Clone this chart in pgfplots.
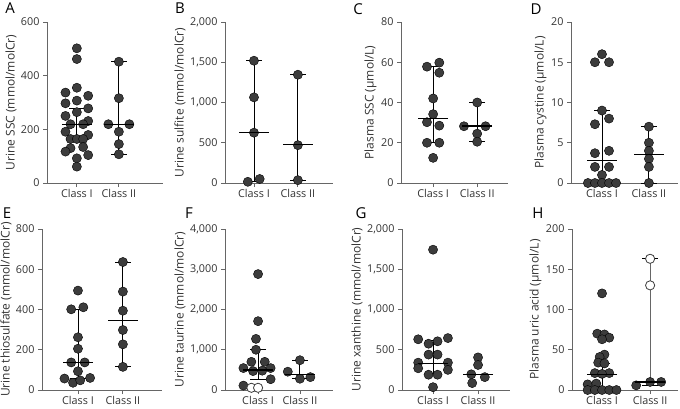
\documentclass[border=0pt]{standalone}
\usepackage{fontspec}
\setmainfont{Open Sans}
\usepackage{pgfplots}
\pgfplotsset{compat=1.18}
\definecolor{axgray}{HTML}{666666}
\definecolor{dotfill}{HTML}{3C3C3C}
\definecolor{txt}{HTML}{333333}

\pgfplotsset{
  panel/.style={
    scale only axis, anchor=south west,
    axis lines=left, axis line style={-, draw=axgray, line width=0.9pt},
    tick align=outside, major tick length=4pt,
    tick style={draw=axgray, line width=0.8pt},
    xtick={1,2}, xticklabels={Class I, Class II},
    ymin=0, scaled y ticks=false, clip=false,
    tick label style={font=\fontsize{10.8}{12}\selectfont, text=txt},
    xticklabel style={inner sep=1pt, yshift=-1.5pt},
    ylabel style={font=\fontsize{12}{13}\selectfont, text=txt, inner sep=1pt},
    /pgf/number format/assume math mode=true,
    /pgf/number format/1000 sep={,},
  },
  dots/.style={only marks, mark=*, mark size=4.6pt,
    mark options={fill=dotfill, draw=black, line width=0.4pt}},
  odots/.style={only marks, mark=*, mark size=4.6pt,
    mark options={fill=white, draw=dotfill, line width=0.8pt}},
  wh/.style={black, line width=0.9pt},
  caps/.style={only marks, mark=-, mark size=8pt, mark options={black, line width=0.9pt}},
  med/.style={only marks, mark=-, mark size=15pt, mark options={black, line width=1.3pt}},
}

\begin{document}
\begin{tikzpicture}[x=1pt,y=1pt]
\path[use as bounding box] (0,0) rectangle (680,408);

% ---- A
\begin{axis}[panel, at={(47pt,225pt)}, width=116pt, height=161pt,
  xmin=0.29, xmax=3.05, ymax=600, ytick={0,200,400,600},
  ylabel={Urine SSC (mmol/molCr)}]
\addplot[wh] coordinates {(1,164) (1,276)};
\addplot[caps] coordinates {(1,164) (1,276)};
\addplot[wh] coordinates {(2,107) (2,452)};
\addplot[caps] coordinates {(2,107) (2,452)};
\addplot[dots] coordinates {(1,502)(1,462)(1,355)(0.73,337)(1.27,325)(1,307)(0.73,297)(1.27,278)(1,264)(0.73,250)(1.27,231)(0.85,219)(1.15,219)(0.73,191)(1.27,179)(0.85,164)(1,164)(1.15,164)(1.15,134)(0.85,130)(0.73,117)(1.27,104)(1,92)(1,61)};
\addplot[dots] coordinates {(2,452)(2,316)(1.75,219)(2.25,219)(2,191)(2,145)(2,107)};
\addplot[med] coordinates {(1,219) (2,219)};
\end{axis}

% ---- B
\begin{axis}[panel, at={(225pt,225pt)}, width=108pt, height=161pt,
  xmin=0.34, xmax=2.8, ymax=2000, ytick={0,500,1000,1500,2000},
  ylabel={Urine sulfite (mmol/molCr)}]
\addplot[wh] coordinates {(1,15) (1,1519)};
\addplot[caps] coordinates {(1,15) (1,1519)};
\addplot[wh] coordinates {(2,35) (2,1345)};
\addplot[caps] coordinates {(2,35) (2,1345)};
\addplot[dots] coordinates {(1,1519)(1,1064)(1,625)(0.86,15)(1.13,50)};
\addplot[dots] coordinates {(2,1345)(2,470)(2,35)};
\addplot[med] coordinates {(1,625) (2,480)};
\end{axis}

% ---- C
\begin{axis}[panel, at={(401pt,225pt)}, width=107pt, height=161pt,
  xmin=0.27, xmax=2.7, ymax=80, ytick={0,20,40,60,80},
  ylabel={Plasma SSC (µmol/L)}]
\addplot[wh] coordinates {(1,20) (1,58)};
\addplot[caps] coordinates {(1,20) (1,58)};
\addplot[wh] coordinates {(2,20.5) (2,40)};
\addplot[caps] coordinates {(2,20.5) (2,40)};
\addplot[dots] coordinates {(0.86,57.8)(1.14,59.8)(1.14,54.8)(1,42)(1,34.2)(0.86,30.2)(1.14,28.5)(0.86,20)(1.14,20)(1,12.5)};
\addplot[dots] coordinates {(2,40)(1.7,28.2)(2.19,28.2)(2,24.5)(2,20.5)};
\addplot[med] coordinates {(1,32) (2,28.3)};
\end{axis}

% ---- D
\begin{axis}[panel, at={(571pt,225pt)}, width=107pt, height=161pt,
  xmin=0.34, xmax=2.62, ymax=20, ytick={0,5,10,15,20},
  ylabel={Plasma cystine (µmol/L)}]
\addplot[wh] coordinates {(1,0) (1,9)};
\addplot[caps] coordinates {(1,0) (1,9)};
\addplot[wh] coordinates {(2,0) (2,7)};
\addplot[caps] coordinates {(2,0) (2,7)};
\addplot[dots] coordinates {(1,16)(0.85,15)(1.15,15)(1,9)(1.15,8)(0.85,7.3)(0.85,3.7)(1.15,4.0)(0.85,2)(1.15,2)(1,1)(0.7,0)(0.85,0)(1,0)(1.15,0)(1.3,0)};
\addplot[dots] coordinates {(2,7)(2,5)(2,4)(2,3)(2,2)(2,0)};
\addplot[med] coordinates {(1,2.8) (2,3.5)};
\end{axis}

% ---- E
\begin{axis}[panel, at={(42pt,18pt)}, width=120pt, height=161pt,
  xmin=0.2, xmax=2.87, ymax=800, ytick={0,200,400,600,800},
  ylabel={Urine thiosulfate (mmol/molCr)}]
\addplot[wh] coordinates {(1,57) (1,401)};
\addplot[caps] coordinates {(1,57) (1,401)};
\addplot[wh] coordinates {(2,115) (2,636)};
\addplot[caps] coordinates {(2,115) (2,636)};
\addplot[dots] coordinates {(1,494)(0.85,401)(1.12,411)(1,262)(1,205)(0.85,137)(1.15,137)(1,93)(0.7,57)(1.27,60)(0.89,36)(1.05,48)};
\addplot[dots] coordinates {(2,636)(2,489)(2,394)(2,298)(2,227)(2,115)};
\addplot[med] coordinates {(1,137) (2,345)};
\end{axis}

% ---- F
\begin{axis}[panel, at={(225pt,18pt)}, width=108pt, height=161pt,
  xmin=0.21, xmax=2.79, ymax=4000, ytick={0,1000,2000,3000,4000},
  ylabel={Urine taurine (mmol/molCr)}]
\addplot[wh] coordinates {(1,253) (1,1000)};
\addplot[caps] coordinates {(1,253) (1,1000)};
\addplot[wh] coordinates {(2,280) (2,740)};
\addplot[caps] coordinates {(2,280) (2,740)};
\addplot[dots] coordinates {(1,2880)(1,1710)(0.95,1270)(0.95,1000)(0.84,700)(1.16,700)(0.65,545)(1.3,545)(0.88,470)(1.1,480)(1.3,268)(0.65,110)};
\addplot[odots] coordinates {(0.84,55)(1.0,55)};
\addplot[dots] coordinates {(2,740)(1.71,455)(2.25,320)(2,280)};
\addplot[med] coordinates {(1,496) (2,390)};
\end{axis}

% ---- G
\begin{axis}[panel, at={(402pt,18pt)}, width=108pt, height=161pt,
  xmin=0.31, xmax=2.71, ymax=2000, ytick={0,500,1000,1500,2000},
  ylabel={Urine xanthine (mmol/molCr)}]
\addplot[wh] coordinates {(1,200) (1,620)};
\addplot[caps] coordinates {(1,200) (1,620)};
\addplot[dots] coordinates {(1,1743)(0.67,630)(0.9,575)(1.1,605)(1.33,645)(0.9,440)(1.1,440)(0.67,340)(1.33,340)(0.67,270)(1.33,250)(0.9,190)(1.1,190)(1,35)};
\addplot[dots] coordinates {(2,405)(2,311)(1.85,195)(1.87,86)(2.15,160)};
\addplot[med] coordinates {(1,331) (2,196)};
\end{axis}

% ---- H
\begin{axis}[panel, at={(572pt,18pt)}, width=106pt, height=161pt,
  xmin=0.375, xmax=2.58, ymax=200, ytick={0,50,100,150,200},
  ylabel={Plasma uric acid (µmol/L)}]
\addplot[wh] coordinates {(1,0) (1,33)};
\addplot[caps] coordinates {(1,0) (1,33)};
\addplot[axgray, line width=0.9pt] coordinates {(2,5.8) (2,163)};
\addplot[caps] coordinates {(2,5.8) (2,163)};
\addplot[dots] coordinates {(1,120)(0.9,70)(1.05,69)(1.15,65)(1,63)(1.05,44)(0.95,41)(0.92,34)(1.05,33)(0.85,21)(1.15,21)(1.0,20)(0.7,7)(0.88,8)(0.7,0)(0.85,0)(1,0)(1.15,0)(1.3,0)};
\addplot[odots] coordinates {(2,163)(2,130)};
\addplot[dots] coordinates {(1.71,5.8)(2,10)(2.23,10)};
\addplot[med] coordinates {(1,19) (2,10)};
\end{axis}

% panel letters
\begin{scope}[font=\fontsize{15}{16}\selectfont]
\node at (10,400) {A};
\node at (180,400) {B};
\node at (358,399) {C};
\node at (536,399) {D};
\node at (7,195) {E};
\node at (189,195) {F};
\node at (361,195) {G};
\node at (538,195) {H};
\end{scope}
\end{tikzpicture}
\end{document}
